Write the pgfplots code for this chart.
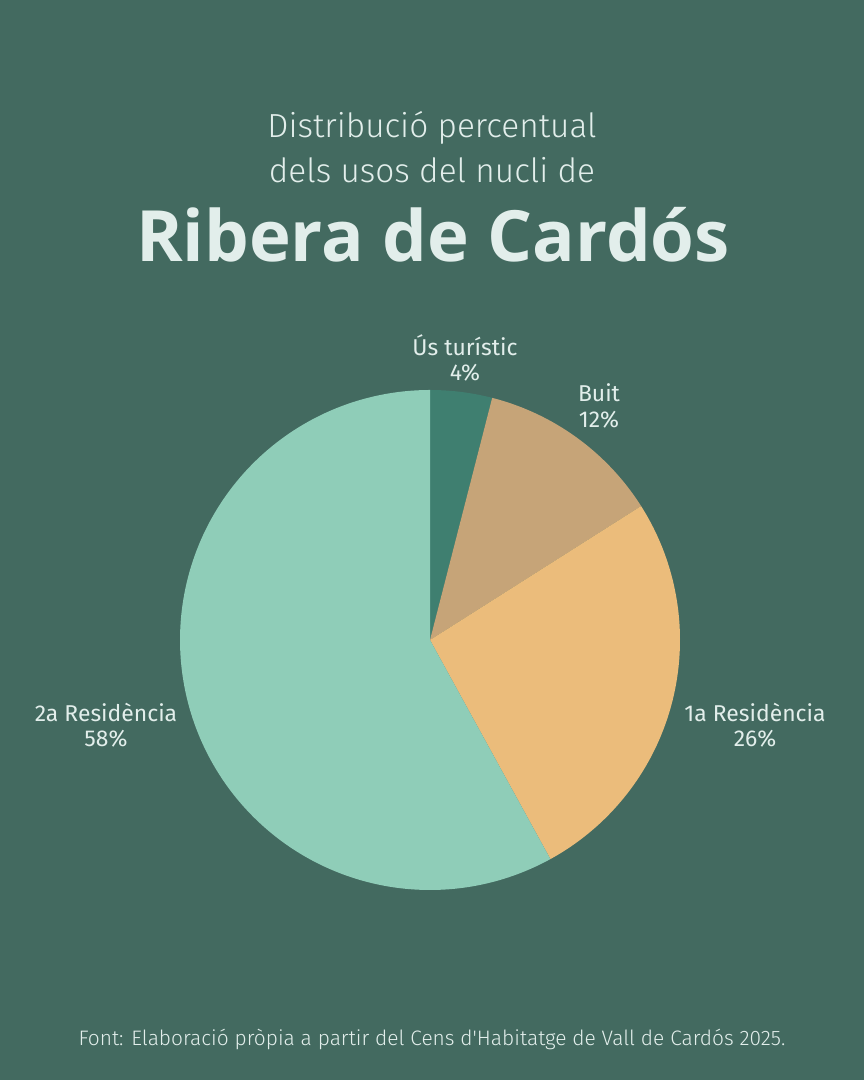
\documentclass[border=0pt]{standalone}
\usepackage{fontspec}
\setmainfont{Fira Sans}
\newfontfamily\lightcond{Fira Sans}[UprightFont=* Light]
\newfontfamily\bigfont{Open Sans}
\usepackage{pgfplots}
\pgfplotsset{compat=1.18}
\definecolor{bg}{HTML}{436A60}
\definecolor{cTur}{HTML}{3F7F70}
\definecolor{cBuit}{HTML}{C6A478}
\definecolor{cPri}{HTML}{EBBC7B}
\definecolor{cSec}{HTML}{8FCDB8}
\definecolor{txt}{HTML}{E2EEEB}
% percentages (clockwise from top)
\def\pA{4}   % Us turistic
\def\pB{12}  % Buit
\def\pC{26}  % 1a Residencia
\def\pD{58}  % 2a Residencia
\begin{document}
\begin{tikzpicture}[x=1bp,y=1bp]
\fill[bg] (0,0) rectangle (864,1080);
\begin{axis}[at={(430bp,440bp)}, anchor=center, width=500bp, height=500bp,
  scale only axis, xmin=-1, xmax=1, ymin=-1, ymax=1, hide axis, clip=false]
\addplot[fill=cTur, draw=none, domain={90-3.6*\pA}:{90}, samples=40] ({cos(x)},{sin(x)}) -- (axis cs:0,0) -- cycle;
\addplot[fill=cBuit, draw=none, domain={90-3.6*(\pA+\pB)}:{90-3.6*\pA}, samples=60] ({cos(x)},{sin(x)}) -- (axis cs:0,0) -- cycle;
\addplot[fill=cPri, draw=none, domain={90-3.6*(\pA+\pB+\pC)}:{90-3.6*(\pA+\pB)}, samples=100] ({cos(x)},{sin(x)}) -- (axis cs:0,0) -- cycle;
\addplot[fill=cSec, draw=none, domain={90-3.6*(\pA+\pB+\pC+\pD)}:{90-3.6*(\pA+\pB+\pC)}, samples=200] ({cos(x)},{sin(x)}) -- (axis cs:0,0) -- cycle;
\end{axis}
% titles
\node[txt, anchor=base, font=\lightcond\fontsize{33.5}{36}\selectfont] at (432,1080-138) {Distribució percentual};
\node[txt, anchor=base, font=\lightcond\fontsize{33.5}{36}\selectfont] at (432,1080-183) {dels usos del nucli de};
\node[txt, anchor=base, font=\bigfont\bfseries\fontsize{71}{76}\selectfont] at (433,1080-262) {Ribera de Cardós};
% labels
\begin{scope}[every node/.style={txt, anchor=base, font=\fontsize{23}{25}\selectfont}]
\node at (465,1080-356) {Ús turístic};
\node at (465,1080-381) {\pA\%};
\node at (599,1080-402) {Buit};
\node at (599,1080-428) {\pB\%};
\node at (755,1080-722) {1a Residència};
\node at (755,1080-747) {\pC\%};
\node at (106,1080-722) {2a Residència};
\node at (106,1080-747) {\pD\%};
\end{scope}
\node[txt, anchor=base, font=\lightcond\fontsize{21}{24}\selectfont] at (432,1080-1046) {Font: Elaboració pròpia a partir del Cens d'Habitatge de Vall de Cardós 2025.};
\end{tikzpicture}
\end{document}
